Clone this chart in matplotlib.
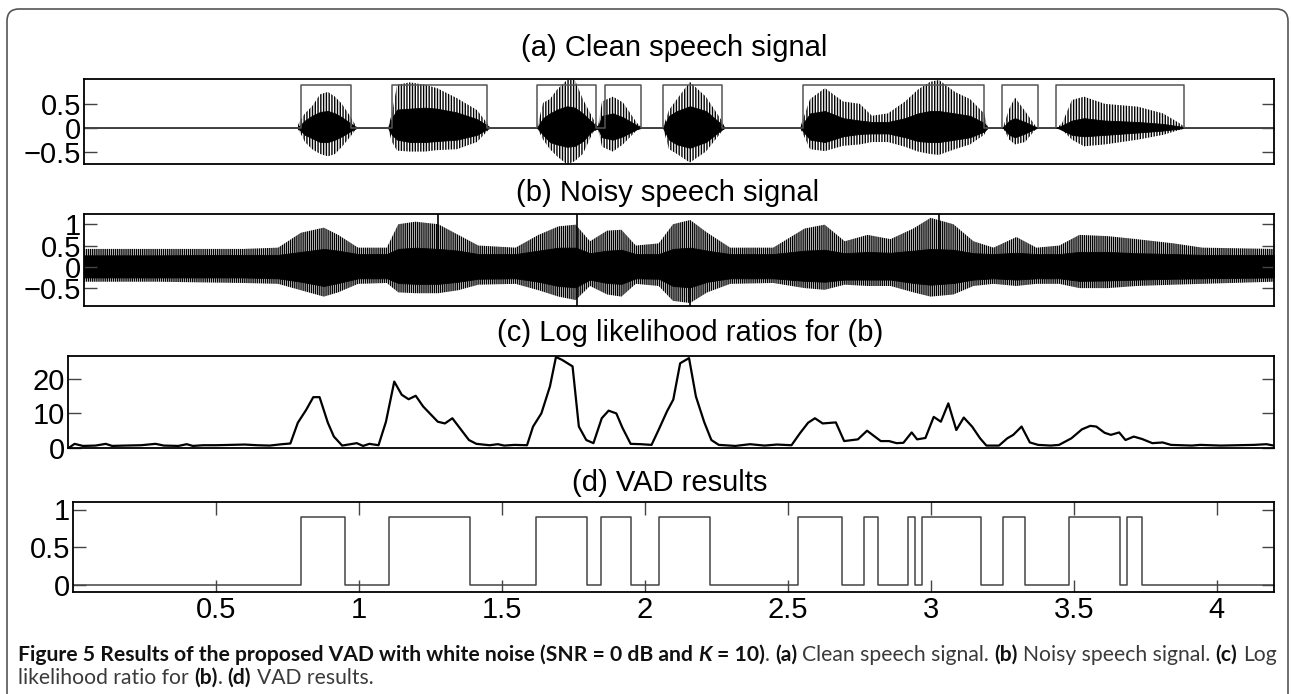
import matplotlib
matplotlib.use('Agg')
import matplotlib.pyplot as plt
import numpy as np
from matplotlib.patches import FancyBboxPatch
from matplotlib.transforms import IdentityTransform

W, H = 1291, 694
FONT = 'Liberation Sans'

# (a) clean speech: envelope (time in s)
a_t = [0.0, 0.786, 0.797, 0.814, 0.839, 0.867, 0.894, 0.919, 0.943, 0.971, 0.996,
       1.104, 1.118, 1.136, 1.181, 1.233, 1.275, 1.345, 1.415, 1.450, 1.461,
       1.625, 1.646, 1.670, 1.695, 1.730, 1.757, 1.785, 1.820, 1.838,
       1.852, 1.890, 1.925, 1.974, 1.992,
       2.065, 2.086, 2.114, 2.159, 2.215, 2.268, 2.282,
       2.544, 2.579, 2.631, 2.694, 2.753, 2.795, 2.851, 2.911, 2.956, 2.998, 3.029,
       3.085, 3.138, 3.187, 3.200,
       3.253, 3.275, 3.295, 3.330, 3.365, 3.375,
       3.442, 3.460, 3.494, 3.536, 3.609, 3.725, 3.812, 3.868, 3.892, 4.2]
a_peak_hi = [0, 0, 0.15, 0.3, 0.45, 0.7, 0.75, 0.65, 0.5, 0.25, 0,
             0, 0.3, 0.9, 0.95, 0.9, 0.83, 0.62, 0.37, 0.1, 0,
             0, 0.52, 0.6, 0.8, 1.0, 1.0, 0.6, 0.2, 0.02,
             0.55, 0.65, 0.53, 0.1, 0,
             0, 0.37, 0.6, 0.96, 0.65, 0.17, 0,
             0, 0.6, 0.83, 0.55, 0.5, 0.25, 0.3, 0.55, 0.8, 0.96, 1.0,
             0.75, 0.6, 0.3, 0,
             0, 0.4, 0.63, 0.35, 0.05, 0,
             0, 0.1, 0.58, 0.65, 0.5, 0.44, 0.3, 0.1, 0, 0]
a_peak_lo = [0, 0, -0.1, -0.3, -0.45, -0.55, -0.6, -0.55, -0.4, -0.2, 0,
             0, -0.3, -0.48, -0.5, -0.5, -0.47, -0.45, -0.3, -0.08, 0,
             0, -0.25, -0.45, -0.6, -0.77, -0.7, -0.55, -0.1, -0.02,
             -0.4, -0.5, -0.35, -0.05, 0,
             0, -0.45, -0.55, -0.73, -0.5, -0.1, 0,
             0, -0.45, -0.49, -0.38, -0.35, -0.3, -0.3, -0.4, -0.5, -0.55, -0.57,
             -0.45, -0.35, -0.15, 0,
             0, -0.25, -0.35, -0.3, -0.05, 0,
             0, -0.05, -0.25, -0.39, -0.35, -0.25, -0.15, -0.05, 0, 0]
a_core_hi = [0, 0, 0.05, 0.15, 0.25, 0.33, 0.35, 0.3, 0.22, 0.1, 0,
             0, 0.2, 0.38, 0.4, 0.42, 0.4, 0.32, 0.18, 0.05, 0,
             0, 0.2, 0.3, 0.38, 0.45, 0.42, 0.3, 0.1, 0.02,
             0.25, 0.3, 0.22, 0.05, 0,
             0, 0.25, 0.35, 0.45, 0.35, 0.08, 0,
             0, 0.3, 0.35, 0.2, 0.15, 0.12, 0.12, 0.2, 0.3, 0.35, 0.35,
             0.3, 0.25, 0.1, 0,
             0, 0.15, 0.2, 0.12, 0.02, 0,
             0, 0.05, 0.15, 0.2, 0.15, 0.12, 0.08, 0.03, 0, 0]
a_core_lo = [0, 0, -0.05, -0.15, -0.22, -0.3, -0.3, -0.25, -0.18, -0.08, 0,
             0, -0.15, -0.25, -0.3, -0.3, -0.28, -0.25, -0.15, -0.03, 0,
             0, -0.15, -0.3, -0.35, -0.4, -0.38, -0.28, -0.05, -0.02,
             -0.2, -0.25, -0.18, -0.03, 0,
             0, -0.25, -0.35, -0.42, -0.3, -0.05, 0,
             0, -0.25, -0.3, -0.18, -0.13, -0.12, -0.12, -0.2, -0.28, -0.3, -0.3,
             -0.25, -0.2, -0.08, 0,
             0, -0.15, -0.2, -0.12, -0.02, 0,
             0, -0.05, -0.15, -0.18, -0.15, -0.1, -0.06, -0.02, 0, 0]
a_on = [0.800, 1.118, 1.625, 1.862, 2.065, 2.554, 3.249, 3.438]
a_off = [0.975, 1.450, 1.831, 1.988, 2.271, 3.187, 3.375, 3.885]

# (b) noisy speech envelope
b_t = [0.0, 0.3, 0.6, 0.72, 0.80, 0.88, 0.93, 1.0, 1.1, 1.14, 1.2, 1.28, 1.35, 1.42,
       1.55, 1.63, 1.70, 1.76, 1.81, 1.87, 1.92, 1.97, 2.05, 2.10, 2.16, 2.22, 2.3,
       2.45, 2.56, 2.63, 2.70, 2.78, 2.86, 2.94, 3.0, 3.08, 3.15, 3.22, 3.3, 3.37,
       3.45, 3.52, 3.62, 3.72, 3.85, 3.95, 4.2]
b_peak_hi = [0.42, 0.42, 0.42, 0.45, 0.8, 0.92, 0.75, 0.45, 0.45, 1.0, 1.06, 1.0, 0.75, 0.5,
             0.45, 0.75, 0.95, 0.99, 0.6, 0.85, 0.87, 0.5, 0.55, 1.0, 1.1, 0.8, 0.45,
             0.45, 0.9, 0.99, 0.6, 0.75, 0.65, 0.9, 1.15, 1.0, 0.6, 0.45, 0.7, 0.45,
             0.5, 0.75, 0.72, 0.65, 0.55, 0.45, 0.42]
b_peak_lo = [-0.35, -0.35, -0.38, -0.4, -0.55, -0.7, -0.6, -0.4, -0.38, -0.6, -0.62, -0.62, -0.55, -0.42,
             -0.4, -0.55, -0.7, -0.78, -0.45, -0.65, -0.7, -0.4, -0.45, -0.8, -0.85, -0.6, -0.4,
             -0.38, -0.5, -0.54, -0.42, -0.45, -0.45, -0.6, -0.7, -0.65, -0.45, -0.4, -0.45, -0.4,
             -0.4, -0.5, -0.5, -0.45, -0.42, -0.4, -0.35]
b_core_hi = [0.27, 0.27, 0.28, 0.28, 0.35, 0.42, 0.38, 0.3, 0.3, 0.42, 0.45, 0.42, 0.38, 0.3,
             0.3, 0.38, 0.45, 0.45, 0.32, 0.38, 0.4, 0.3, 0.3, 0.42, 0.45, 0.38, 0.3,
             0.3, 0.38, 0.4, 0.32, 0.35, 0.33, 0.38, 0.42, 0.4, 0.32, 0.3, 0.33, 0.3,
             0.3, 0.35, 0.35, 0.32, 0.3, 0.28, 0.28]
b_core_lo = [-0.25, -0.25, -0.25, -0.27, -0.35, -0.45, -0.38, -0.27, -0.27, -0.38, -0.4, -0.4, -0.35, -0.28,
             -0.27, -0.35, -0.45, -0.48, -0.3, -0.38, -0.4, -0.27, -0.28, -0.45, -0.48, -0.35, -0.27,
             -0.27, -0.33, -0.35, -0.3, -0.3, -0.3, -0.38, -0.42, -0.38, -0.3, -0.27, -0.3, -0.27,
             -0.27, -0.33, -0.32, -0.3, -0.28, -0.27, -0.25]
b_spike_t = [1.279, 1.764, 2.159, 3.029]
b_spike_hi = [1.24, 1.24, 0.0, 1.24]
b_spike_lo = [0.0, -0.92, -0.92, 0.0]

# (c) log likelihood ratios
c_t = [-0.012, 0.009, 0.038, 0.082, 0.118, 0.140, 0.183, 0.241, 0.292, 0.321, 0.372,
       0.401, 0.422, 0.459, 0.502, 0.560, 0.604, 0.647, 0.691, 0.734, 0.763,
       0.789, 0.818, 0.843, 0.865, 0.894, 0.915, 0.944, 0.995, 1.017, 1.039, 1.071,
       1.097, 1.126, 1.152, 1.176, 1.201, 1.227, 1.278, 1.303, 1.329, 1.387, 1.413,
       1.459, 1.488, 1.510, 1.546, 1.590,
       1.611, 1.640, 1.670, 1.691, 1.712, 1.749, 1.771, 1.797, 1.822, 1.851, 1.875,
       1.902, 1.923, 1.952, 1.988,
       2.025, 2.050, 2.079, 2.101, 2.125, 2.156, 2.180, 2.209, 2.234, 2.260, 2.318,
       2.369, 2.420, 2.463, 2.514,
       2.543, 2.572, 2.596, 2.623, 2.669, 2.698, 2.746, 2.778, 2.826, 2.855, 2.881,
       2.905, 2.934, 2.953, 2.982, 3.011, 3.036, 3.062, 3.090, 3.116, 3.145, 3.173, 3.195,
       3.239, 3.268, 3.289, 3.318, 3.347, 3.376, 3.420, 3.449, 3.492, 3.529, 3.558,
       3.579, 3.608, 3.630, 3.659, 3.681, 3.710, 3.739, 3.775, 3.811, 3.840, 3.913,
       3.942, 4.014, 4.130, 4.174, 4.199]
c_v = [0.0, 1.2, 0.6, 0.7, 1.2, 0.6, 0.7, 0.8, 1.2, 0.7, 0.6,
       1.1, 0.6, 0.8, 0.8, 0.9, 1.0, 0.8, 0.7, 1.1, 1.3,
       7.3, 11.0, 14.7, 14.7, 7.3, 3.3, 0.7, 1.4, 0.6, 1.2, 0.8,
       7.6, 19.2, 15.4, 14.1, 15.1, 12.0, 7.6, 7.1, 8.6, 2.3, 1.2,
       0.8, 1.1, 0.7, 0.9, 0.8,
       6.2, 10.0, 17.8, 26.3, 25.5, 23.6, 6.2, 2.3, 1.4, 8.6, 10.8,
       10.0, 5.9, 1.2, 1.1,
       0.9, 5.3, 10.6, 14.0, 24.5, 26.0, 14.9, 7.5, 2.3, 0.9, 0.6,
       1.1, 0.7, 1.0, 0.8,
       4.2, 7.3, 8.6, 7.1, 7.4, 2.0, 2.5, 5.0, 2.0, 2.0, 1.4,
       1.5, 4.5, 2.5, 2.9, 9.0, 7.6, 12.9, 5.2, 8.8, 6.2, 2.8, 0.7,
       0.7, 2.8, 3.8, 6.2, 1.6, 0.9, 0.7, 0.9, 2.8, 5.4, 6.4,
       6.2, 4.4, 3.8, 4.5, 2.3, 3.3, 2.6, 1.4, 1.6, 0.9, 0.7,
       0.9, 0.7, 0.9, 1.1, 0.7]

# (d) VAD decisions
d_on = [0.797, 1.104, 1.618, 1.848, 2.051, 2.537, 2.767, 2.921, 2.970, 3.253, 3.484, 3.686]
d_off = [0.950, 1.387, 1.796, 1.950, 2.229, 2.690, 2.816, 2.946, 3.176, 3.330, 3.662, 3.739]

titles = ['(a) Clean speech signal', '(b) Noisy speech signal',
          '(c) Log likelihood ratios for (b)', '(d) VAD results']
a_ticks, a_labels = [-0.5, 0, 0.5], ['\u22120.5', '0', '0.5']
b_ticks, b_labels = [-0.5, 0, 0.5, 1], ['\u22120.5', '0', '0.5', '1']
c_ticks, c_labels = [0, 10, 20], ['0', '10', '20']
d_ticks, d_labels = [0, 0.5, 1], ['0', '0.5', '1']
x_ticks = [0.5, 1, 1.5, 2, 2.5, 3, 3.5, 4]
x_labels = ['0.5', '1', '1.5', '2', '2.5', '3', '3.5', '4']

plt.rcParams['font.family'] = FONT
plt.rcParams['hatch.linewidth'] = 1.0

fig = plt.figure(figsize=(W / 100, H / 100), dpi=100)


def px_axes(left, top, right, bottom):
    return fig.add_axes([left / W, 1 - bottom / H, (right - left) / W, (bottom - top) / H])


def style(ax, ticks, labels, show_x=False):
    ax.set_yticks(ticks)
    ax.set_yticklabels(labels)
    ax.tick_params(axis='y', direction='in', length=9, width=1, color='#444',
                   right=True, labelsize=21, pad=2)
    if show_x:
        ax.set_xticks(x_ticks)
        ax.set_xticklabels(x_labels)
        ax.tick_params(axis='x', direction='in', length=9, width=1, color='#444',
                       top=True, labelsize=21, pad=3)
    else:
        ax.set_xticks([])
    for s in ax.spines.values():
        s.set_linewidth(1.3)


def steps(on, off, lo, hi, height):
    xs, ys = [lo], [0]
    for a, b in zip(on, off):
        xs += [a, a, b, b]
        ys += [0, height, height, 0]
    xs.append(hi)
    ys.append(0)
    return xs, ys


# panel a
ax = px_axes(84, 79, 1274, 164)
ax.fill_between(a_t, a_peak_lo, a_peak_hi, facecolor='none', edgecolor='black',
                hatch='||||||', linewidth=0)
ax.fill_between(a_t, a_core_lo, a_core_hi, color='black', linewidth=0.6)
ax.axhline(0, color='black', lw=1.2)
xs, ys = steps(a_on, a_off, 0.042, 4.2, 0.9)
ax.plot(xs, ys, color='#555', lw=1.1)
ax.set_xlim(0.042, 4.2)
ax.set_ylim(-0.76, 1.02)
style(ax, a_ticks, a_labels)

# panel b
ax = px_axes(84, 214, 1274, 306)
ax.fill_between(b_t, b_peak_lo, b_peak_hi, facecolor='none', edgecolor='black',
                hatch='||||||||', linewidth=0)
ax.fill_between(b_t, b_core_lo, b_core_hi, color='black', linewidth=0.6)
ax.vlines(b_spike_t, b_spike_lo, b_spike_hi, color='black', lw=1.2)
ax.set_xlim(0.042, 4.2)
ax.set_ylim(-0.92, 1.24)
style(ax, b_ticks, b_labels)

# panel c
ax = px_axes(68, 356, 1274, 448)
ax.plot(c_t, c_v, color='black', lw=1.6)
ax.set_xlim(-0.014, 4.2)
ax.set_ylim(0, 26.6)
style(ax, c_ticks, c_labels)

# panel d
ax = px_axes(73, 502, 1274, 592)
xs, ys = steps(d_on, d_off, 0.0, 4.2, 0.9)
ax.plot(xs, ys, color='#444', lw=1.1)
ax.set_xlim(0.0, 4.2)
ax.set_ylim(-0.1, 1.1)
style(ax, d_ticks, d_labels, show_x=True)

# panel titles
for (cx, cy), t in zip([(674, 48), (668, 193), (690, 333), (670, 483)], titles):
    fig.text(cx / W, 1 - cy / H, t, ha='center', va='center', fontsize=21)

# rounded frame
fig.patches.append(FancyBboxPatch((7, -12), 1281, 697, boxstyle='round,pad=0,rounding_size=12',
                                  transform=IdentityTransform(), facecolor='none',
                                  edgecolor='#555', lw=1.2))

# caption with mixed weights
cap_font = 'Lato'
dark, grey = '#111', '#3a3a3a'
line1 = [('Figure 5 Results of the proposed VAD with white noise (SNR = 0 dB and ', 'bold', 'normal', dark),
         ('K', 'bold', 'italic', dark),
         (' = 10)', 'bold', 'normal', dark),
         ('. ', 'normal', 'normal', grey),
         ('(a)', 'bold', 'normal', dark),
         (' Clean speech signal. ', 'normal', 'normal', grey),
         ('(b)', 'bold', 'normal', dark),
         (' Noisy speech signal. ', 'normal', 'normal', grey),
         ('(c)', 'bold', 'normal', dark),
         (' Log', 'normal', 'normal', grey)]
line2 = [('likelihood ratio for ', 'normal', 'normal', grey),
         ('(b)', 'bold', 'normal', dark),
         ('. ', 'normal', 'normal', grey),
         ('(d)', 'bold', 'normal', dark),
         (' VAD results.', 'normal', 'normal', grey)]

renderer = fig.canvas.get_renderer()


def advance(s, size, weight, fstyle):
    kw = dict(fontsize=size, fontweight=weight, fontstyle=fstyle, family=cap_font)
    t1 = fig.text(0, 0, '|' + s + '|', **kw)
    t2 = fig.text(0, 0, '||', **kw)
    w = t1.get_window_extent(renderer).width - t2.get_window_extent(renderer).width
    t1.remove()
    t2.remove()
    return w


base = 12
total = sum(advance(s, base, w, st) for s, w, st, c in line1)
size = base * (1272 - 18) / total


def draw_line(runs, y):
    x = 18
    for s, w, st, c in runs:
        kw = dict(fontsize=size, fontweight=w, fontstyle=st, family=cap_font)
        lead = len(s) - len(s.lstrip(' '))
        off = advance(' ' * lead, size, w, st) if lead else 0
        fig.text((x + off) / W, 1 - y / H, s.strip(' '), color=c, va='center', ha='left', **kw)
        x += advance(s, size, w, st)


draw_line(line1, 655)
draw_line(line2, 678)

fig.savefig('out.png', dpi=100)
